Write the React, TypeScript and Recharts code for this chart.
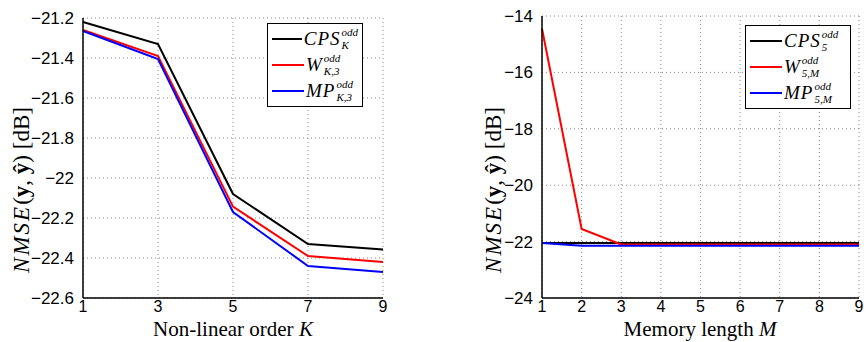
import { LineChart, Line, XAxis, YAxis, CartesianGrid } from "recharts"

// left panel: non-linear order K
const kValues = [1, 3, 5, 7, 9]
const cpsK = [-21.22, -21.33, -22.08, -22.33, -22.357]
const wK3 = [-21.26, -21.39, -22.143, -22.39, -22.42]
const mpK3 = [-21.265, -21.405, -22.17, -22.44, -22.47]
const kTicks = [1, 3, 5, 7, 9]
const leftYTicks = [-22.6, -22.4, -22.2, -22, -21.8, -21.6, -21.4, -21.2]

// right panel: memory length M
const mValues = [1, 2, 3, 4, 5, 6, 7, 8, 9]
const cps5 = [-22.05, -22.05, -22.05, -22.05, -22.05, -22.05, -22.05, -22.05, -22.05]
const w5M = [-14.45, -21.55, -22.1, -22.1, -22.1, -22.1, -22.1, -22.1, -22.1]
const mp5M = [-22.05, -22.15, -22.15, -22.15, -22.15, -22.15, -22.15, -22.15, -22.15]
const mTicks = [1, 2, 3, 4, 5, 6, 7, 8, 9]
const rightYTicks = [-24, -22, -20, -18, -16, -14]

const leftData = kValues.map((k, i) => ({ x: k, cps: cpsK[i], w: wK3[i], mp: mpK3[i] }))
const rightData = mValues.map((m, i) => ({ x: m, cps: cps5[i], w: w5M[i], mp: mp5M[i] }))

const serif = "'Liberation Serif', 'DejaVu Serif', serif"
const sans = "'Liberation Sans', Arial, sans-serif"
const tickStyle = { fontFamily: sans, fontSize: 17, fill: "#000" }
const xTickStyle = { fontFamily: sans, fontSize: 16, fill: "#000" }
const fmt = (v: number) => String(v).replace("-", "\u2212")

type Row = { color: string; base: string; sup: string; sub: string }

function Sym({ base, sup, sub }: { base: string; sup: string; sub: string }) {
  return (
    <span style={{ fontFamily: serif, fontSize: 19, display: "inline-flex", alignItems: "center" }}>
      <i style={{ letterSpacing: 1 }}>{base}</i>
      <span style={{ display: "inline-flex", flexDirection: "column", fontSize: 11, lineHeight: "13px", marginLeft: 1 }}>
        <i>{sup}</i>
        <i>{sub}</i>
      </span>
    </span>
  )
}

function LegendBox({ rows, left, top, width }: { rows: Row[]; left: number; top: number; width: number }) {
  return (
    <div
      style={{
        position: "absolute",
        left,
        top,
        width,
        boxSizing: "border-box",
        border: "1.5px solid #000",
        background: "#fff",
        padding: "2px 4px 2px 4px",
      }}
    >
      {rows.map((r) => (
        <div key={r.base} style={{ display: "flex", alignItems: "center", height: 26 }}>
          <span style={{ display: "inline-block", width: 32, height: 2, background: r.color, marginRight: 2 }} />
          <Sym base={r.base} sup={r.sup} sub={r.sub} />
        </div>
      ))}
    </div>
  )
}

function YLabel({ x, y }: { x: number; y: number }) {
  return (
    <text x={x} y={y} transform={`rotate(-90 ${x} ${y})`} textAnchor="middle" fontFamily={serif} fontSize={23} fill="#000">
      <tspan fontStyle="italic" letterSpacing={2}>NMSE</tspan>
      <tspan>(</tspan>
      <tspan fontWeight="bold">y</tspan>
      <tspan>, </tspan>
      <tspan fontWeight="bold">ŷ</tspan>
      <tspan>)  [dB]</tspan>
    </text>
  )
}

function XLabel({ x, y, text, sym }: { x: number; y: number; text: string; sym: string }) {
  return (
    <text x={x} y={y} textAnchor="middle" fontFamily={serif} fontSize={21} fill="#000">
      <tspan>{text} </tspan>
      <tspan fontStyle="italic">{sym}</tspan>
    </text>
  )
}

const leftRows: Row[] = [
  { color: "#000", base: "CPS", sup: "odd", sub: "K" },
  { color: "#ff0000", base: "W", sup: "odd", sub: "K,3" },
  { color: "#0000ff", base: "MP", sup: "odd", sub: "K,3" },
]
const rightRows: Row[] = [
  { color: "#000", base: "CPS", sup: "odd", sub: "5" },
  { color: "#ff0000", base: "W", sup: "odd", sub: "5,M" },
  { color: "#0000ff", base: "MP", sup: "odd", sub: "5,M" },
]

export default function App() {
  return (
    <div style={{ position: "absolute", left: 0, top: 0, width: 867, height: 342, background: "#fff" }}>
      <div style={{ position: "absolute", left: 0, top: 0 }}>
        <LineChart width={400} height={342} data={leftData} margin={{ top: 18, right: 17, bottom: 14, left: 0 }}>
          <CartesianGrid stroke="#888" strokeDasharray="1 3" />
          <XAxis
            dataKey="x"
            type="number"
            domain={[1, 9]}
            ticks={kTicks}
            tick={xTickStyle}
            tickLine={false}
            tickSize={0}
            axisLine={{ stroke: "#000", strokeWidth: 1.5 }}
            tickMargin={3}
            label={{ content: () => <XLabel x={233} y={336} text="Non-linear order" sym="K" /> }}
          />
          <YAxis
            type="number"
            domain={[-22.6, -21.2]}
            ticks={leftYTicks}
            tick={tickStyle}
            tickFormatter={fmt}
            tickLine={false}
            axisLine={{ stroke: "#000", strokeWidth: 1.5 }}
            width={83}
            tickMargin={3}
            label={{ content: () => <YLabel x={29} y={190} /> }}
          />
          <Line dataKey="cps" stroke="#000" strokeWidth={2} dot={false} isAnimationActive={false} />
          <Line dataKey="w" stroke="#ff0000" strokeWidth={2} dot={false} isAnimationActive={false} />
          <Line dataKey="mp" stroke="#0000ff" strokeWidth={2} dot={false} isAnimationActive={false} />
        </LineChart>
      </div>
      <LegendBox rows={leftRows} left={267} top={23} width={96} />
      <div style={{ position: "absolute", left: 440, top: 0 }}>
        <LineChart width={427} height={342} data={rightData} margin={{ top: 16, right: 8, bottom: 14, left: 0 }}>
          <CartesianGrid stroke="#888" strokeDasharray="1 3" />
          <XAxis
            dataKey="x"
            type="number"
            domain={[1, 9]}
            ticks={mTicks}
            tick={xTickStyle}
            tickLine={false}
            tickSize={0}
            axisLine={{ stroke: "#000", strokeWidth: 1.5 }}
            tickMargin={3}
            label={{ content: () => <XLabel x={260} y={336} text="Memory length" sym="M" /> }}
          />
          <YAxis
            type="number"
            domain={[-24, -14]}
            ticks={rightYTicks}
            tick={tickStyle}
            tickFormatter={fmt}
            tickLine={false}
            axisLine={{ stroke: "#000", strokeWidth: 1.5 }}
            width={102}
            tickMargin={3}
            label={{ content: () => <YLabel x={61} y={190} /> }}
          />
          <Line dataKey="cps" stroke="#000" strokeWidth={2} dot={false} isAnimationActive={false} />
          <Line dataKey="w" stroke="#ff0000" strokeWidth={2} dot={false} isAnimationActive={false} />
          <Line dataKey="mp" stroke="#0000ff" strokeWidth={2} dot={false} isAnimationActive={false} />
        </LineChart>
      </div>
      <LegendBox rows={rightRows} left={745} top={25} width={106} />
    </div>
  )
}
